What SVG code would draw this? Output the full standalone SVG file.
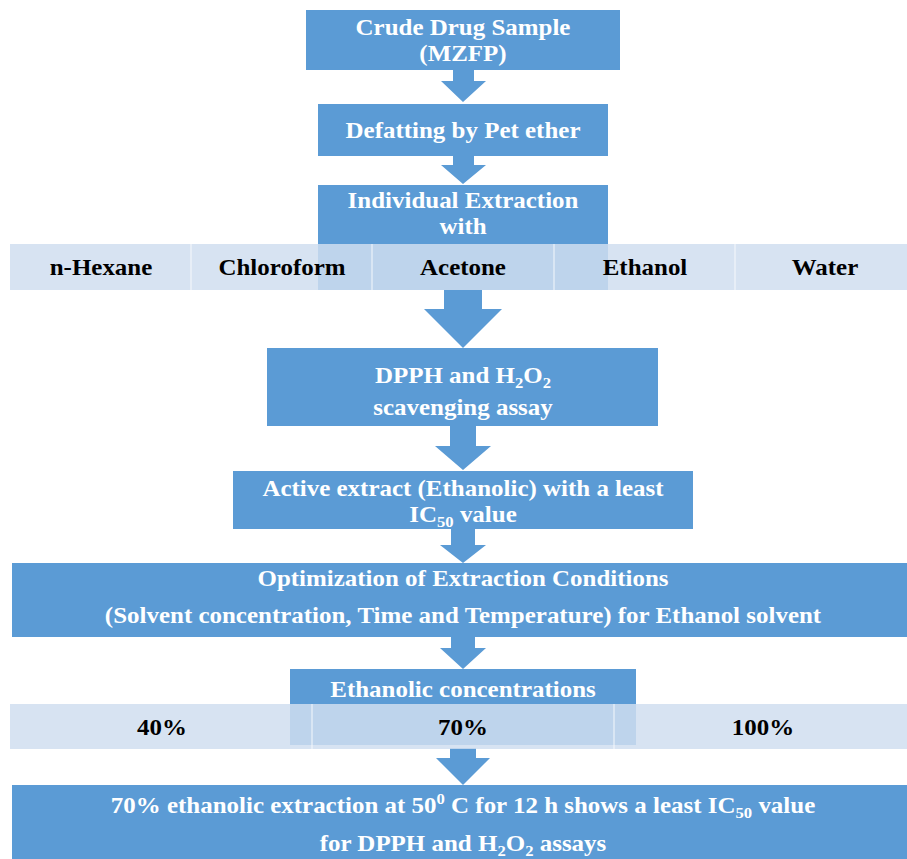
<svg xmlns="http://www.w3.org/2000/svg" width="907" height="859" viewBox="0 0 907 859">
<style>
.box{fill:#5B9BD5}
.seg{fill:#D0DEF0;fill-opacity:0.85}
.div{stroke:#FFFFFF;stroke-opacity:0.55;stroke-width:1.5}
.arr{fill:#5B9BD5}
text{font-family:"Liberation Serif","Times New Roman",serif;font-weight:bold;font-size:22.5px;text-anchor:middle}
.w{fill:#FFFFFF}
.k{fill:#000000}
</style>
<rect width="907" height="859" fill="#FFFFFF"/>
<g id="connectors">
<polygon class="arr" points="453,70 474,70 474,81 486,81 463,102 441,81 453,81"/>
<polygon class="arr" points="453,156 474,156 474,165 486,165 463,184 441,165 453,165"/>
<polygon class="arr" points="444,290 482,290 482,309 502,309 463,348 424,309 444,309"/>
<polygon class="arr" points="450,426 476,426 476,446 491,446 463,470 435,446 450,446"/>
<polygon class="arr" points="451,529 475,529 475,545 486,545 463,563 440,545 451,545"/>
<polygon class="arr" points="451,637 475,637 475,648 486,648 463,669 440,648 451,648"/>
<polygon class="arr" points="450,748 476,748 476,758 490,758 463,785 436,758 450,758"/>
</g>
<g id="n1">
<rect class="box" x="306" y="10" width="314" height="60"/>
<text class="w" transform="translate(463,0) scale(1.11,1)" x="0" y="35">Crude Drug Sample</text>
<text class="w" transform="translate(463,0) scale(1.11,1)" x="0" y="61">(MZFP)</text>
</g>
<g id="n2">
<rect class="box" x="318" y="104" width="290" height="52"/>
<text class="w" transform="translate(463,0) scale(1.11,1)" x="0" y="138">Defatting by Pet ether</text>
</g>
<g id="n3">
<rect class="box" x="318" y="185" width="290" height="105"/>
<text class="w" transform="translate(463,0) scale(1.11,1)" x="0" y="208">Individual Extraction</text>
<text class="w" transform="translate(463,0) scale(1.11,1)" x="0" y="234">with</text>
</g>
<g id="solvents">
<rect class="seg" x="10" y="244" width="897" height="46"/>
<line class="div" x1="191" y1="244" x2="191" y2="290"/>
<line class="div" x1="372" y1="244" x2="372" y2="290"/>
<line class="div" x1="554" y1="244" x2="554" y2="290"/>
<line class="div" x1="735" y1="244" x2="735" y2="290"/>
<text class="k" transform="translate(101,0) scale(1.11,1)" x="0" y="275">n-Hexane</text>
<text class="k" transform="translate(282,0) scale(1.11,1)" x="0" y="275">Chloroform</text>
<text class="k" transform="translate(463,0) scale(1.11,1)" x="0" y="275">Acetone</text>
<text class="k" transform="translate(645,0) scale(1.11,1)" x="0" y="275">Ethanol</text>
<text class="k" transform="translate(825,0) scale(1.11,1)" x="0" y="275">Water</text>
</g>
<g id="n4">
<rect class="box" x="267" y="348" width="391" height="78"/>
<text class="w" transform="translate(463,0) scale(1.11,1)" x="0" y="383">DPPH and H<tspan dy="5" font-size="15">2</tspan><tspan dy="-5">O</tspan><tspan dy="5" font-size="15">2</tspan></text>
<text class="w" transform="translate(463,0) scale(1.11,1)" x="0" y="415">scavenging assay</text>
</g>
<g id="n5">
<rect class="box" x="233" y="471" width="460" height="58"/>
<text class="w" transform="translate(463,0) scale(1.11,1)" x="0" y="496">Active extract (Ethanolic) with a least</text>
<text class="w" transform="translate(463,0) scale(1.11,1)" x="0" y="522">IC<tspan dy="5" font-size="15">50</tspan><tspan dy="-5"> value</tspan></text>
</g>
<g id="n6">
<rect class="box" x="12" y="563" width="895" height="74"/>
<text class="w" transform="translate(463,0) scale(1.11,1)" x="0" y="586">Optimization of Extraction Conditions</text>
<text class="w" transform="translate(463,0) scale(1.11,1)" x="0" y="623">(Solvent concentration, Time and Temperature) for Ethanol solvent</text>
</g>
<g id="n7">
<rect class="box" x="290" y="669" width="346" height="76"/>
<text class="w" transform="translate(463,0) scale(1.11,1)" x="0" y="697">Ethanolic concentrations</text>
</g>
<g id="concentrations">
<rect class="seg" x="10" y="704" width="897" height="45"/>
<line class="div" x1="312" y1="704" x2="312" y2="749"/>
<line class="div" x1="614" y1="704" x2="614" y2="749"/>
<text class="k" transform="translate(162,0) scale(1.11,1)" x="0" y="735">40%</text>
<text class="k" transform="translate(463,0) scale(1.11,1)" x="0" y="735">70%</text>
<text class="k" transform="translate(763,0) scale(1.11,1)" x="0" y="735">100%</text>
</g>
<g id="n8">
<rect class="box" x="12" y="785" width="895" height="74"/>
<text class="w" transform="translate(463,0) scale(1.11,1)" x="0" y="813">70% ethanolic extraction at 50<tspan dy="-9" font-size="15">0</tspan><tspan dy="9"> C for 12 h shows a least IC</tspan><tspan dy="5" font-size="15">50</tspan><tspan dy="-5"> value</tspan></text>
<text class="w" transform="translate(463,0) scale(1.11,1)" x="0" y="851">for DPPH and H<tspan dy="5" font-size="15">2</tspan><tspan dy="-5">O</tspan><tspan dy="5" font-size="15">2</tspan><tspan dy="-5"> assays</tspan></text>
</g>
</svg>
